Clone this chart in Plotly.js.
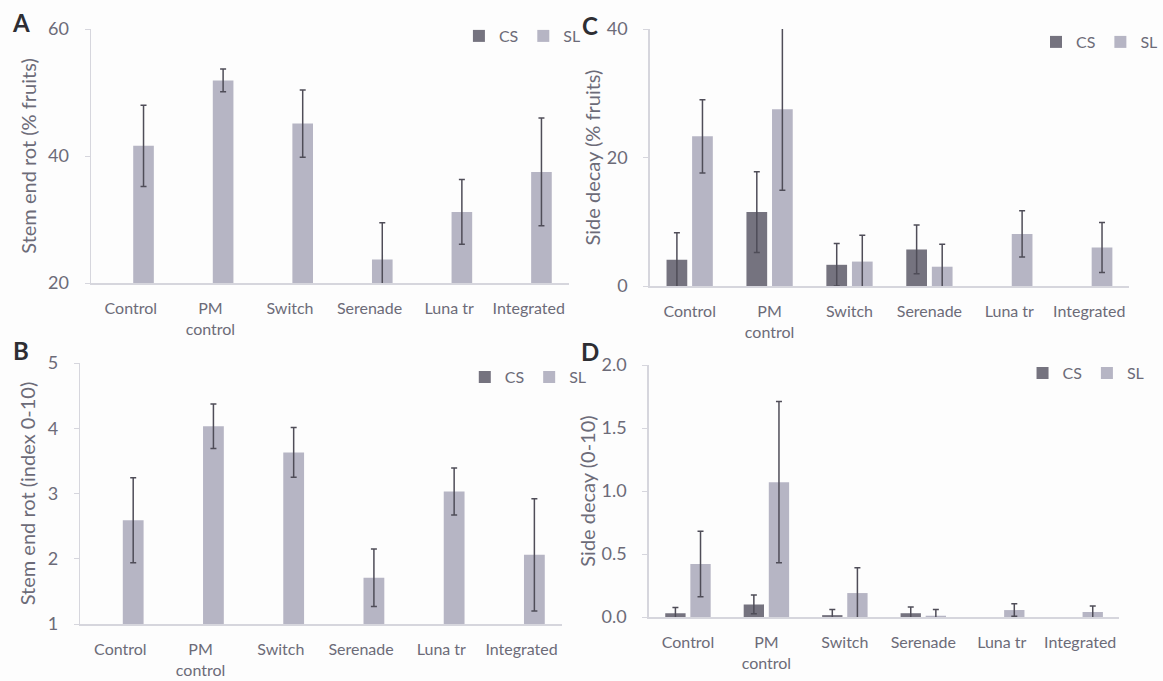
<!DOCTYPE html>
<html>
<head>
<meta charset="utf-8">
<script src="https://cdn.plot.ly/plotly-3.0.1.min.js"></script>
<style>
  html, body { margin: 0; padding: 0; background: #fdfdfd; }
  #chart { width: 1163px; height: 681px; }
</style>
</head>
<body>
<div id="chart"></div>
<script>
// ---- data ----
const categories = ['Control', 'PM<br>control', 'Switch', 'Serenade', 'Luna tr', 'Integrated'];

// Panel A: Stem end rot (% fruits)
const A_CS = [null, null, null, null, null, null];
const A_CS_err = [null, null, null, null, null, null];
const A_SL = [41.6, 51.9, 45.1, 23.7, 31.2, 37.5];
const A_SL_err = [6.4, 1.8, 5.3, 5.8, 5.1, 8.5];

// Panel B: Stem end rot (index 0-10)
const B_CS = [null, null, null, null, null, null];
const B_CS_err = [null, null, null, null, null, null];
const B_SL = [2.59, 4.03, 3.63, 1.71, 3.03, 2.06];
const B_SL_err = [0.65, 0.34, 0.38, 0.44, 0.36, 0.86];

// Panel C: Side decay (% fruits)
const C_CS = [4.1, 11.5, 3.3, 5.7, null, null];
const C_CS_err = [4.2, 6.3, 3.3, 3.8, null, null];
const C_SL = [23.3, 27.5, 3.8, 3.0, 8.1, 6.0];
const C_SL_err = [5.7, 12.6, 4.1, 3.5, 3.6, 3.9];

// Panel D: Side decay (0-10)
const D_CS = [0.03, 0.10, 0.015, 0.03, null, null];
const D_CS_err = [0.045, 0.075, 0.045, 0.05, null, null];
const D_SL = [0.42, 1.07, 0.19, 0.01, 0.055, 0.04];
const D_SL_err = [0.26, 0.64, 0.20, 0.05, 0.05, 0.048];

// ---- styling ----
const CS_COLOR = '#75737f';
const SL_COLOR = '#b6b5c4';
const ERR_COLOR = '#4f4d58';
const TXT = '#6c6b78';
const FONT = 'Lato, "Noto Sans", sans-serif';
const W = 1163, H = 681;
const px = v => v / W;
const py = v => 1 - v / H;

function bar(name, x, y, err, color, xa, ya, legend) {
  return {
    type: 'bar', name: name, x: x, y: y,
    xaxis: xa, yaxis: ya, legend: legend,
    marker: { color: color },
    error_y: { type: 'data', array: err, visible: true, color: ERR_COLOR, thickness: 1.5, width: 3 },
    hoverinfo: 'x+y'
  };
}

const traces = [
  bar('CS', categories, A_CS, A_CS_err, CS_COLOR, 'x', 'y', 'legend'),
  bar('SL', categories, A_SL, A_SL_err, SL_COLOR, 'x', 'y', 'legend'),
  bar('CS', categories, C_CS, C_CS_err, CS_COLOR, 'x2', 'y2', 'legend2'),
  bar('SL', categories, C_SL, C_SL_err, SL_COLOR, 'x2', 'y2', 'legend2'),
  bar('CS', categories, B_CS, B_CS_err, CS_COLOR, 'x3', 'y3', 'legend3'),
  bar('SL', categories, B_SL, B_SL_err, SL_COLOR, 'x3', 'y3', 'legend3'),
  bar('CS', categories, D_CS, D_CS_err, CS_COLOR, 'x4', 'y4', 'legend4'),
  bar('SL', categories, D_SL, D_SL_err, SL_COLOR, 'x4', 'y4', 'legend4')
];

function xax(d0, d1, anchor) {
  return {
    domain: [px(d0), px(d1)], anchor: anchor,
    showline: true, linecolor: '#d6d6dd', linewidth: 1.5,
    ticks: '', showgrid: false, zeroline: false,
    tickfont: { family: FONT, size: 16, color: TXT },
    ticklabelstandoff: 10, fixedrange: true
  };
}
function yax(top, bottom, anchor, range, dtick, fmt, title, standoff) {
  return {
    domain: [py(bottom), py(top)], anchor: anchor, range: range, dtick: dtick,
    tickformat: fmt,
    showline: true, linecolor: '#d6d6dd', linewidth: 1.5,
    ticks: 'outside', ticklen: 5, tickcolor: '#d6d6dd',
    showgrid: false, zeroline: false,
    tickfont: { family: FONT, size: 18, color: TXT },
    ticklabelstandoff: 12,
    title: { text: title, font: { family: FONT, size: 20, color: TXT }, standoff: standoff },
    fixedrange: true
  };
}

function leg(xl, yc) {
  return {
    x: px(xl), y: py(yc), xanchor: 'left', yanchor: 'middle',
    orientation: 'h', bgcolor: 'rgba(0,0,0,0)',
    font: { family: FONT, size: 16, color: TXT },
    itemwidth: 30, tracegroupgap: 0, traceorder: 'normal'
  };
}

function letter(t, x, y) {
  return { text: '<b>' + t + '</b>', x: px(x), y: py(y), xref: 'paper', yref: 'paper',
    xanchor: 'left', yanchor: 'middle', showarrow: false,
    font: { family: FONT, size: 24, color: '#2e2e33' } };
}

const layout = {
  width: W, height: H,
  margin: { l: 0, r: 0, t: 0, b: 0 },
  paper_bgcolor: '#fdfdfd', plot_bgcolor: 'rgba(0,0,0,0)',
  barmode: 'group', bargap: 0.36, bargroupgap: 0.19,
  showlegend: true,
  xaxis: xax(93, 581, 'y'),
  yaxis: yax(29, 283, 'x', [20, 60], 20, '', 'Stem end rot (% fruits)', 6),
  xaxis2: xax(664, 1154, 'y2'),
  yaxis2: yax(29, 286, 'x2', [0, 40], 20, '', 'Side decay (% fruits)', 0),
  xaxis3: xax(82, 574, 'y3'),
  yaxis3: yax(363, 624, 'x3', [1, 5], 1, '', 'Stem end rot (index 0-10)', 6),
  xaxis4: xax(663, 1144, 'y4'),
  yaxis4: yax(365, 617, 'x4', [0, 2], 0.5, '.1f', 'Side decay (0-10)', 0),
  legend: leg(469, 36),
  legend2: leg(1059, 42),
  legend3: leg(475, 377),
  legend4: leg(1045, 373),
  annotations: [
    letter('A', 10, 22),
    letter('C', 593, 26),
    letter('B', 11, 350),
    letter('D', 592, 351)
  ]
};

Plotly.newPlot('chart', traces, layout, { displayModeBar: false, staticPlot: true });
</script>
</body>
</html>
